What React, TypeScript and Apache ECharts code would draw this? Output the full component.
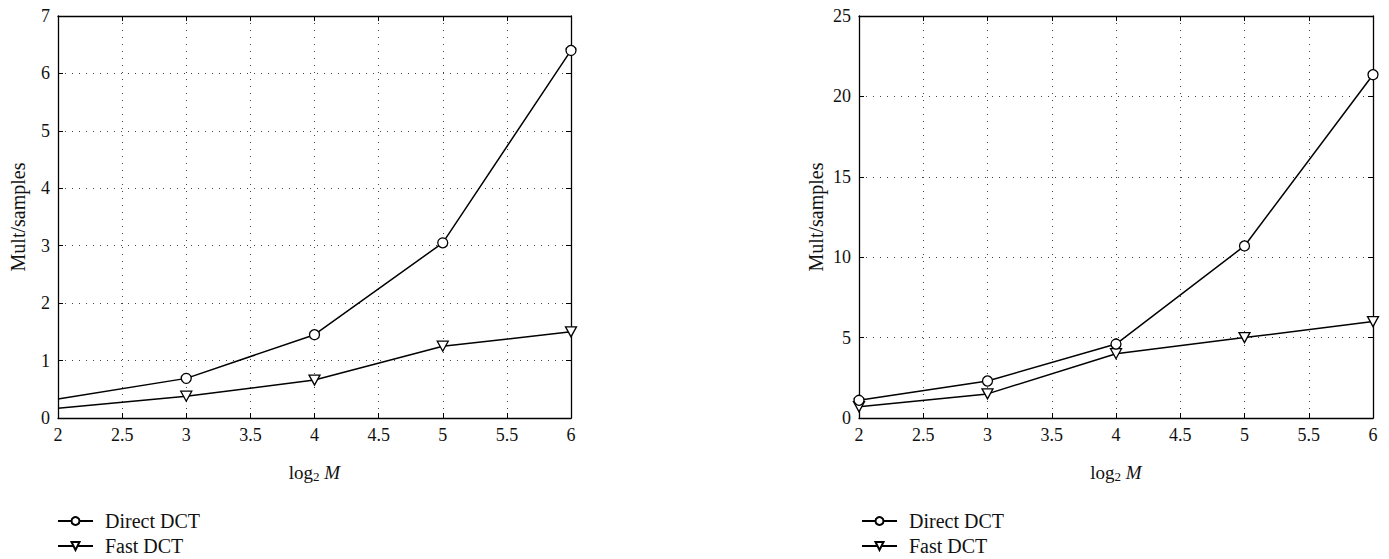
import React, { useEffect, useRef } from "react";
import * as echarts from "echarts";

const xValues = [2, 3, 4, 5, 6];
const leftDirect = [0.33, 0.69, 1.45, 3.05, 6.4];
const leftFast = [0.17, 0.38, 0.66, 1.25, 1.5];
const rightDirect = [1.1, 2.3, 4.6, 10.7, 21.35];
const rightFast = [0.7, 1.5, 4.0, 5.0, 6.0];
const seriesNames = ["Direct DCT", "Fast DCT"];
const yAxisTitle = "Mult/samples";
const xMin = 2;
const xMax = 6;
const xStep = 0.5;
const leftYMax = 7;
const leftYStep = 1;
const rightYMax = 25;
const rightYStep = 5;

const FONT = '"Liberation Serif", "DejaVu Serif", serif';
const TRI = "path://M0,0L12,0L6,11Z";

function pairs(vals: number[], hideFirst: boolean) {
  return xValues.map((x, i) =>
    hideFirst && i === 0 ? { value: [x, vals[i]], symbol: "none" } : { value: [x, vals[i]] }
  );
}

export default function App() {
  const ref = useRef<HTMLDivElement>(null);
  useEffect(() => {
    if (!ref.current) return;
    const chart = echarts.init(ref.current, undefined, { renderer: "svg" });
    const grids = [
      { left: 58, top: 16, width: 513, height: 402 },
      { left: 859, top: 16, width: 514, height: 402 },
    ];
    const yMaxes = [leftYMax, rightYMax];
    const ySteps = [leftYStep, rightYStep];
    const xAxis: any[] = [];
    const yAxis: any[] = [];
    grids.forEach((_, g) => {
      xAxis.push({
        gridIndex: g,
        type: "value",
        min: xMin,
        max: xMax,
        interval: xStep,
        position: "bottom",
        axisLine: { show: true, onZero: false, lineStyle: { color: "#000", width: 1.3 } },
        axisTick: { show: true, inside: true, length: 5, lineStyle: { color: "#000" } },
        axisLabel: { color: "#111", fontSize: 18, fontFamily: FONT, margin: 8 },
        splitLine: { show: true, lineStyle: { type: [1, 6], color: "#444", width: 1 } },
        name: "log{sub|2} {it|M}",
        nameLocation: "middle",
        nameGap: 43,
        nameTextStyle: {
          color: "#111",
          fontSize: 19,
          fontFamily: FONT,
          rich: {
            sub: { fontSize: 13, verticalAlign: "bottom", padding: [9, 0, 0, 0], fontFamily: FONT, color: "#111" },
            it: { fontSize: 19, fontStyle: "italic", fontFamily: FONT, color: "#111" },
          },
        },
      });
      xAxis.push({
        gridIndex: g,
        type: "value",
        min: xMin,
        max: xMax,
        interval: xStep,
        position: "top",
        axisLine: { show: true, onZero: false, lineStyle: { color: "#000", width: 1.3 } },
        axisTick: { show: true, inside: true, length: 5, lineStyle: { color: "#000" } },
        axisLabel: { show: false },
        splitLine: { show: false },
      });
      yAxis.push({
        gridIndex: g,
        type: "value",
        min: 0,
        max: yMaxes[g],
        interval: ySteps[g],
        position: "left",
        axisLine: { show: true, onZero: false, lineStyle: { color: "#000", width: 1.3 } },
        axisTick: { show: true, inside: true, length: 5, lineStyle: { color: "#000" } },
        axisLabel: { color: "#111", fontSize: 18, fontFamily: FONT, margin: 8 },
        splitLine: { show: true, lineStyle: { type: [1, 6], color: "#444", width: 1 } },
        name: yAxisTitle,
        nameLocation: "middle",
        nameGap: g === 0 ? 30 : 33,
        nameTextStyle: { color: "#111", fontSize: 20, fontFamily: FONT },
      });
      yAxis.push({
        gridIndex: g,
        type: "value",
        min: 0,
        max: yMaxes[g],
        interval: ySteps[g],
        position: "right",
        axisLine: { show: true, onZero: false, lineStyle: { color: "#000", width: 1.3 } },
        axisTick: { show: true, inside: true, length: 5, lineStyle: { color: "#000" } },
        axisLabel: { show: false },
        splitLine: { show: false },
      });
    });

    const mk = (name: string, data: any[], g: number, symbol: string, size: number | number[]) => ({
      name,
      type: "line",
      xAxisIndex: g * 2,
      yAxisIndex: g * 2,
      data,
      symbol,
      symbolSize: size,
      showAllSymbol: true,
      color: "#000",
      lineStyle: { color: "#000", width: 1.5 },
      itemStyle: { color: "#fff", borderColor: "#000", borderWidth: 1.3 },
      z: name === seriesNames[0] ? 3 : 2,
    });

    const series = [
      mk(seriesNames[0], pairs(leftDirect, true), 0, "circle", 10),
      mk(seriesNames[1], pairs(leftFast, true), 0, TRI, [11, 10]),
      mk(seriesNames[0], pairs(rightDirect, false), 1, "circle", 10),
      mk(seriesNames[1], pairs(rightFast, false), 1, TRI, [11, 10]),
    ];

    const legendBase = {
      orient: "vertical",
      padding: 0,
      itemWidth: 35,
      itemHeight: 10,
      textStyle: { color: "#111", fontSize: 20, fontFamily: FONT, padding: [0, 0, 0, 7] },
      selectedMode: false,
    };
    const legendLefts = [57, 861];
    const legendTops = [511, 536];
    const legend: any[] = [];
    legendLefts.forEach((left) => {
      seriesNames.forEach((name, i) => {
        legend.push({ ...legendBase, left, top: legendTops[i], data: [name] });
      });
    });

    chart.setOption({
      animation: false,
      backgroundColor: "#fff",
      grid: grids,
      xAxis,
      yAxis,
      series,
      legend,
    });
    return () => chart.dispose();
  }, []);
  return (
    <div
      ref={ref}
      style={{ position: "fixed", left: 0, top: 0, width: 1389, height: 559, background: "#fff" }}
    />
  );
}
